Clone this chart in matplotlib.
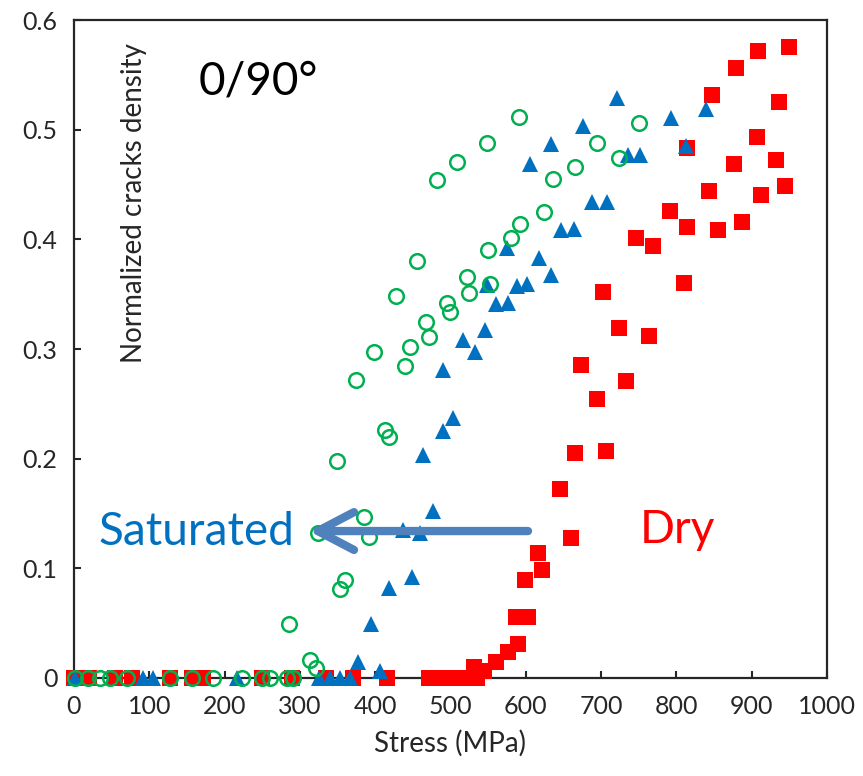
import matplotlib
matplotlib.use('Agg')
import matplotlib.pyplot as plt

# stress (MPa) and normalized crack density
circ_x = [1, 19, 35, 48, 70, 127, 157, 185, 223, 250, 260, 283, 291,
          286, 314, 322, 324, 350, 353, 360, 375, 385, 392, 399, 413, 419,
          428, 439, 446, 455, 468, 472, 482, 495, 500, 509, 522, 525, 549,
          550, 552, 581, 591, 593, 624, 636, 666, 694, 724, 750]
circ_y = [0, 0, 0, 0, 0, 0, 0, 0, 0, 0, 0, 0, 0,
          0.049, 0.016, 0.009, 0.132, 0.198, 0.081, 0.089, 0.272, 0.147,
          0.129, 0.2975, 0.226, 0.220, 0.348, 0.2845, 0.302, 0.3805, 0.325,
          0.311, 0.454, 0.342, 0.334, 0.4705, 0.366, 0.351, 0.4875, 0.390,
          0.359, 0.401, 0.512, 0.414, 0.425, 0.455, 0.466, 0.4875, 0.474,
          0.506]

tri_x = [1, 92, 105, 216, 326, 340, 353, 366,
         377, 407, 394, 419, 449, 437, 459, 477, 464, 490, 504, 490, 517,
         532, 546, 561, 576, 548, 588, 602, 575, 617, 634, 647, 664, 688,
         708, 605, 634, 676, 721, 736, 752, 793, 813, 840]
tri_y = [0, 0, 0, 0, 0, 0, 0, 0,
         0.015, 0.006, 0.049, 0.082, 0.092, 0.135, 0.132, 0.152, 0.203,
         0.225, 0.237, 0.281, 0.308, 0.2975, 0.317, 0.341, 0.342, 0.358,
         0.357, 0.359, 0.392, 0.383, 0.3675, 0.4085, 0.409, 0.434, 0.434,
         0.469, 0.487, 0.503, 0.529, 0.477, 0.477, 0.511, 0.4855, 0.519]

sq_x = [0, 20, 55, 77, 127, 157, 171, 250, 290, 335, 370, 416, 472, 490,
        505, 520, 535,
        531, 545, 561, 576, 590, 587, 603, 599, 616, 621, 645, 660, 665,
        706, 695, 733, 673, 703, 724, 764, 746, 769, 792, 810, 814, 814,
        844, 856, 876, 887, 907, 913, 932, 944, 937, 848, 879, 908, 949]
sq_y = [0, 0, 0, 0, 0, 0, 0, 0, 0, 0, 0, 0, 0, 0, 0, 0, 0,
        0.010, 0.006, 0.015, 0.024, 0.031, 0.056, 0.056, 0.089, 0.114,
        0.0985, 0.172, 0.128, 0.205, 0.207, 0.254, 0.271, 0.285, 0.352,
        0.319, 0.312, 0.401, 0.394, 0.426, 0.360, 0.4115, 0.4835, 0.444,
        0.4085, 0.469, 0.416, 0.493, 0.440, 0.472, 0.449, 0.5255, 0.5316,
        0.5565, 0.572, 0.575]

x_ticks = [0, 100, 200, 300, 400, 500, 600, 700, 800, 900, 1000]
y_ticks = [0, 0.1, 0.2, 0.3, 0.4, 0.5, 0.6]
y_tick_labels = ['0', '0.1', '0.2', '0.3', '0.4', '0.5', '0.6']

GREEN = '#00B050'
BLUE = '#0070C0'
RED = '#FF0000'
ARROW = '#4F81BD'
INK = '#262626'

plt.rcParams['font.family'] = ['Lato', 'DejaVu Sans']

fig = plt.figure(figsize=(8.63, 7.76), dpi=100)
ax = fig.add_axes([0.0857, 0.1263, 0.8725, 0.8479])

ax.plot(sq_x, sq_y, 's', color=RED, ms=12, mew=0, clip_on=False, zorder=3)
ax.plot(tri_x, tri_y, '^', color=BLUE, ms=11, mew=0, clip_on=False, zorder=4)
ax.plot(circ_x, circ_y, 'o', mfc='none', mec=GREEN, ms=10.5, mew=1.8,
        clip_on=False, zorder=5)

ax.set_xlim(0, 1000)
ax.set_ylim(0, 0.6)
ax.set_xticks(x_ticks)
ax.set_yticks(y_ticks)
ax.set_yticklabels(y_tick_labels)
ax.tick_params(direction='in', length=5, width=1.5, colors=INK,
               labelsize=18)
ax.tick_params(axis='x', pad=12)
ax.tick_params(axis='y', pad=12)
for s in ax.spines.values():
    s.set_linewidth(1.6)
    s.set_color(INK)

ax.set_xlabel('Stress (MPa)', fontsize=20, color=INK, labelpad=9)

ax.text(80, 0.433, 'Normalized cracks density', rotation=90, fontsize=20,
        color=INK, ha='center', va='center')
ax.text(165, 0.532, '0/90°', fontsize=33, color='black', ha='left',
        va='baseline')
ax.text(32, 0.121, 'Saturated', fontsize=33, color=BLUE, ha='left',
        va='baseline')
ax.text(751, 0.123, 'Dry', fontsize=33, color=RED, ha='left',
        va='baseline')

ax.annotate('', xy=(312, 0.134), xytext=(603, 0.134),
            arrowprops=dict(arrowstyle='->,head_length=0.65,head_width=0.34',
                            lw=6, color=ARROW, mutation_scale=40,
                            shrinkA=0, shrinkB=0),
            zorder=6)

plt.savefig('out.png', dpi=100)
